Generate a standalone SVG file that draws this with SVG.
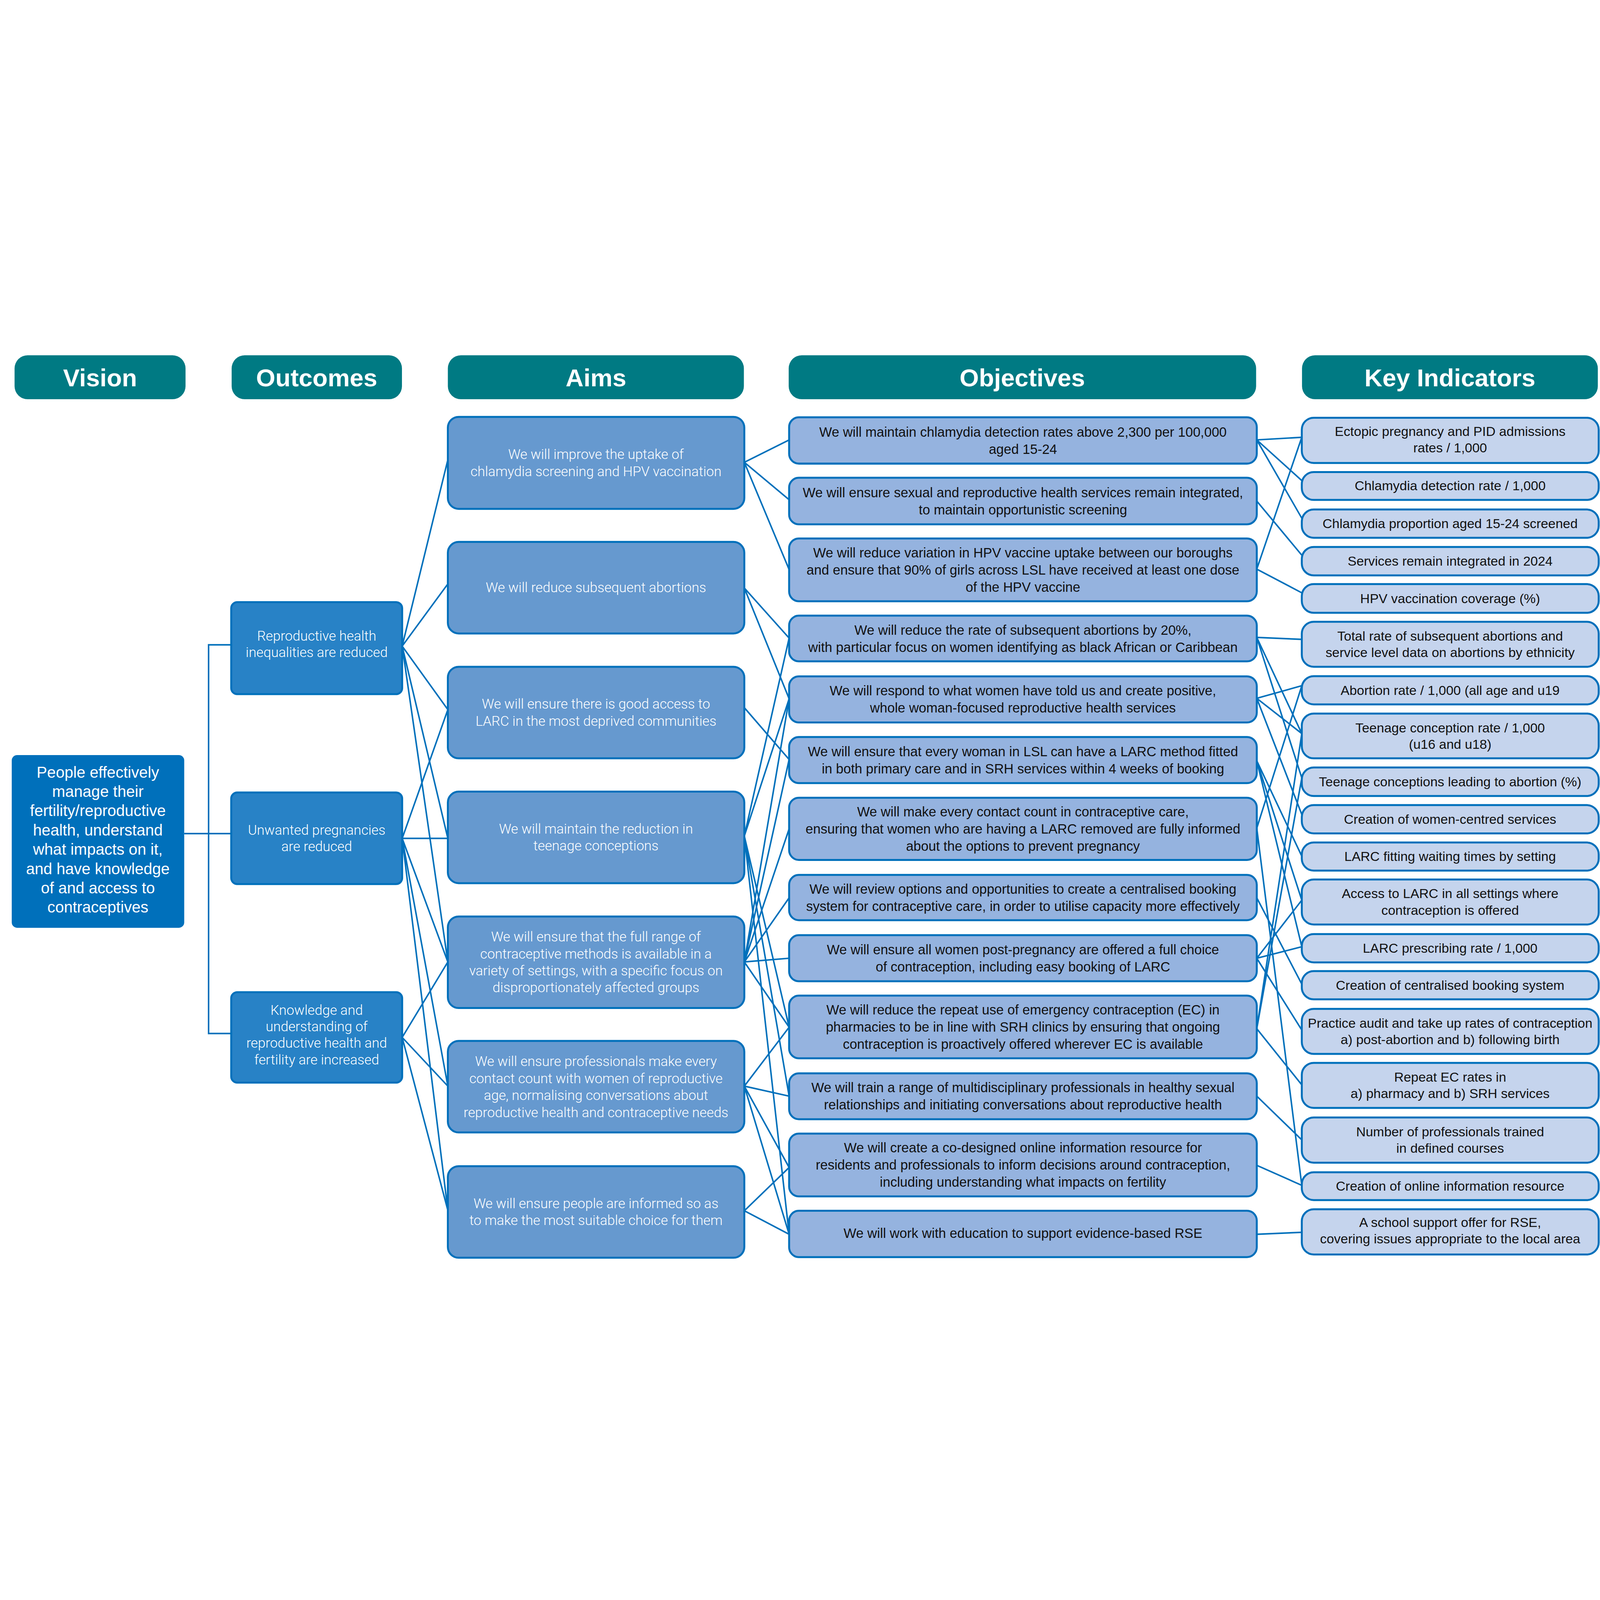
<svg xmlns="http://www.w3.org/2000/svg" width="7356" height="4173" viewBox="0 0 7356 4173" style="width:100vw;height:100vh;display:block;overflow:hidden">
<style>
.hdr{fill:#007a83}
.hdrt{font-family:"Liberation Sans",Arial,sans-serif;font-weight:bold;font-size:114px;fill:#fff;text-anchor:middle}
.vis{fill:#0070bb}
.out{fill:#2882c6;stroke:#0070bb;stroke-width:9}
.aim{fill:#6699cf;stroke:#0070bb;stroke-width:9}
.obj{fill:#95b3df;stroke:#0070bb;stroke-width:9}
.ki{fill:#c5d4ed;stroke:#0070bb;stroke-width:9}
.wt{font-family:Roboto,"Liberation Sans",Arial,sans-serif;font-weight:300;font-size:63px;fill:#fff;text-anchor:middle}
.vt{font-family:"Liberation Sans",Arial,sans-serif;font-size:72px;fill:#fff;text-anchor:middle}
.dt{font-family:"Liberation Sans",Arial,sans-serif;font-size:62px;fill:#111;text-anchor:middle}
.kt{font-family:"Liberation Sans",Arial,sans-serif;font-size:61px;fill:#111;text-anchor:middle}
.con path{fill:none;stroke:#0070bb;stroke-width:7}
</style>
<rect width="7356" height="4173" fill="#fff"/>
<g id="connectors" class="con">
<path d="M847,2241 H1063 M1063,1373 H959 V3160 H1063"/>
<path d="M1849,1379 L2059,522 M1849,1379 L2059,1093 M1849,1379 L2059,1671 M1849,1379 L2059,2263 M1849,1379 L2059,2831"/>
<path d="M1849,2263 L2059,1671 M1849,2263 L2059,2263 M1849,2263 L2059,2831 M1849,2263 L2059,3402 M1849,2263 L2059,3973"/>
<path d="M1849,3178 L2059,2831 M1849,3178 L2059,3402 M1849,3178 L2059,3973"/>
<path d="M3422,534 L3628,431 M3422,534 L3628,706 M3422,534 L3628,1027"/>
<path d="M3422,1112 L3628,1342 M3422,1112 L3628,1621"/>
<path d="M3422,1662 L3628,1900"/>
<path d="M3422,2252 L3628,1342 M3422,2252 L3628,1621 M3422,2252 L3628,3131 M3422,2252 L3628,3448 M3422,2252 L3628,4083"/>
<path d="M3422,2831 L3628,1621 M3422,2831 L3628,1900 M3422,2831 L3628,2219 M3422,2831 L3628,2536 M3422,2831 L3628,2814 M3422,2831 L3628,3131"/>
<path d="M3422,3402 L3628,3131 M3422,3402 L3628,3448 M3422,3402 L3628,3776 M3422,3402 L3628,4083"/>
<path d="M3422,3975 L3628,3776 M3422,3975 L3628,4083"/>
<path d="M5778,431 L5985,419 M5778,431 L5985,618 M5778,431 L5985,791"/>
<path d="M5778,712 L5985,961"/>
<path d="M5778,1025 L5985,419 M5778,1025 L5985,1134"/>
<path d="M5778,1339 L5985,1348 M5778,1339 L5985,1781 M5778,1339 L5985,1985"/>
<path d="M5778,1619 L5985,1561 M5778,1619 L5985,1781 M5778,1619 L5985,2153"/>
<path d="M5778,1906 L5985,2345 M5778,1906 L5985,2547 M5778,1906 L5985,2761"/>
<path d="M5778,2216 L5985,1561 M5778,2216 L5985,3858"/>
<path d="M5778,2536 L5985,2933"/>
<path d="M5778,2814 L5985,2547 M5778,2814 L5985,2761 M5778,2814 L5985,3144"/>
<path d="M5778,3138 L5985,1781 M5778,3138 L5985,1985 M5778,3138 L5985,3396"/>
<path d="M5778,3448 L5985,3649"/>
<path d="M5778,3766 L5985,3858"/>
<path d="M5778,4083 L5985,4074"/>
</g>
<g id="hdr-vision"><rect class="hdr" x="67" y="42" width="786" height="202" rx="60"/><text class="hdrt" x="460" y="184">Vision</text></g>
<g id="hdr-outcomes"><rect class="hdr" x="1065" y="42" width="783" height="202" rx="60"/><text class="hdrt" x="1456" y="184">Outcomes</text></g>
<g id="hdr-aims"><rect class="hdr" x="2059" y="42" width="1361" height="202" rx="60"/><text class="hdrt" x="2740" y="184">Aims</text></g>
<g id="hdr-objectives"><rect class="hdr" x="3626" y="42" width="2149" height="202" rx="60"/><text class="hdrt" x="4700" y="184">Objectives</text></g>
<g id="hdr-indicators"><rect class="hdr" x="5986" y="42" width="1360" height="202" rx="60"/><text class="hdrt" x="6666" y="184">Key Indicators</text></g>

<g id="vision"><rect class="vis" x="54" y="1880" width="793" height="794" rx="25"/>
<text class="vt" x="450"><tspan x="450" y="1984">People effectively</tspan><tspan x="450" y="2073">manage their</tspan><tspan x="450" y="2161">fertility/reproductive</tspan><tspan x="450" y="2250">health, understand</tspan><tspan x="450" y="2338">what impacts on it,</tspan><tspan x="450" y="2427">and have knowledge</tspan><tspan x="450" y="2516">of and access to</tspan><tspan x="450" y="2604">contraceptives</tspan></text></g>

<g id="outcome1"><rect class="out" x="1063" y="1177" width="786" height="423" rx="28"/><text class="wt"><tspan x="1456" y="1354">Reproductive health</tspan><tspan x="1456" y="1430">inequalities are reduced</tspan></text></g>
<g id="outcome2"><rect class="out" x="1063" y="2052" width="786" height="421" rx="28"/><text class="wt"><tspan x="1456" y="2246">Unwanted pregnancies</tspan><tspan x="1456" y="2322">are reduced</tspan></text></g>
<g id="outcome3"><rect class="out" x="1063" y="2970" width="786" height="416" rx="28"/><text class="wt"><tspan x="1456" y="3074">Knowledge and</tspan><tspan x="1456" y="3150">understanding of</tspan><tspan x="1456" y="3226">reproductive health and</tspan><tspan x="1456" y="3302">fertility are increased</tspan></text></g>

<g id="aim1"><rect class="aim" x="2059" y="325" width="1363" height="423" rx="50"/><text class="wt"><tspan x="2740" y="519">We will improve the uptake of</tspan><tspan x="2740" y="597">chlamydia screening and HPV vaccination</tspan></text></g>
<g id="aim2"><rect class="aim" x="2059" y="900" width="1363" height="421" rx="50"/><text class="wt"><tspan x="2740" y="1132">We will reduce subsequent abortions</tspan></text></g>
<g id="aim3"><rect class="aim" x="2059" y="1474" width="1363" height="421" rx="50"/><text class="wt"><tspan x="2740" y="1667">We will ensure there is good access to</tspan><tspan x="2740" y="1745">LARC in the most deprived communities</tspan></text></g>
<g id="aim4"><rect class="aim" x="2059" y="2048" width="1363" height="421" rx="50"/><text class="wt"><tspan x="2740" y="2241">We will maintain the reduction in</tspan><tspan x="2740" y="2319">teenage conceptions</tspan></text></g>
<g id="aim5"><rect class="aim" x="2059" y="2622" width="1363" height="421" rx="50"/><text class="wt"><tspan x="2740" y="2737">We will ensure that the full range of</tspan><tspan x="2740" y="2815">contraceptive methods is available in a</tspan><tspan x="2740" y="2893">variety of settings, with a specific focus on</tspan><tspan x="2740" y="2971">disproportionately affected groups</tspan></text></g>
<g id="aim6"><rect class="aim" x="2059" y="3194" width="1363" height="421" rx="50"/><text class="wt"><tspan x="2740" y="3310">We will ensure professionals make every</tspan><tspan x="2740" y="3388">contact count with women of reproductive</tspan><tspan x="2740" y="3466">age, normalising conversations about</tspan><tspan x="2740" y="3544">reproductive health and contraceptive needs</tspan></text></g>
<g id="aim7"><rect class="aim" x="2059" y="3770" width="1363" height="421" rx="50"/><text class="wt"><tspan x="2740" y="3963">We will ensure people are informed so as</tspan><tspan x="2740" y="4041">to make the most suitable choice for them</tspan></text></g>

<g id="obj1"><rect class="obj" x="3628" y="327" width="2150" height="213" rx="45"/><text class="dt"><tspan x="4703" y="416">We will maintain chlamydia detection rates above 2,300 per 100,000</tspan><tspan x="4703" y="495">aged 15-24</tspan></text></g>
<g id="obj2"><rect class="obj" x="3628" y="605" width="2150" height="214" rx="45"/><text class="dt"><tspan x="4703" y="694">We will ensure sexual and reproductive health services remain integrated,</tspan><tspan x="4703" y="773">to maintain opportunistic screening</tspan></text></g>
<g id="obj3"><rect class="obj" x="3628" y="884" width="2150" height="289" rx="45"/><text class="dt"><tspan x="4703" y="971">We will reduce variation in HPV vaccine uptake between our boroughs</tspan><tspan x="4703" y="1050">and ensure that 90% of girls across LSL have received at least one dose</tspan><tspan x="4703" y="1129">of the HPV vaccine</tspan></text></g>
<g id="obj4"><rect class="obj" x="3628" y="1239" width="2150" height="210" rx="45"/><text class="dt"><tspan x="4703" y="1326">We will reduce the rate of subsequent abortions by 20%,</tspan><tspan x="4703" y="1405">with particular focus on women identifying as black African or Caribbean</tspan></text></g>
<g id="obj5"><rect class="obj" x="3628" y="1518" width="2150" height="212" rx="45"/><text class="dt"><tspan x="4703" y="1606">We will respond to what women have told us and create positive,</tspan><tspan x="4703" y="1685">whole woman-focused reproductive health services</tspan></text></g>
<g id="obj6"><rect class="obj" x="3628" y="1797" width="2150" height="212" rx="45"/><text class="dt"><tspan x="4703" y="1885">We will ensure that every woman in LSL can have a LARC method fitted</tspan><tspan x="4703" y="1964">in both primary care and in SRH services within 4 weeks of booking</tspan></text></g>
<g id="obj7"><rect class="obj" x="3628" y="2076" width="2150" height="286" rx="45"/><text class="dt"><tspan x="4703" y="2162">We will make every contact count in contraceptive care,</tspan><tspan x="4703" y="2241">ensuring that women who are having a LARC removed are fully informed</tspan><tspan x="4703" y="2320">about the options to prevent pregnancy</tspan></text></g>
<g id="obj8"><rect class="obj" x="3628" y="2431" width="2150" height="208" rx="45"/><text class="dt"><tspan x="4703" y="2517">We will review options and opportunities to create a centralised booking</tspan><tspan x="4703" y="2596">system for contraceptive care, in order to utilise capacity more effectively</tspan></text></g>
<g id="obj9"><rect class="obj" x="3628" y="2708" width="2150" height="212" rx="45"/><text class="dt"><tspan x="4703" y="2796">We will ensure all women post-pregnancy are offered a full choice</tspan><tspan x="4703" y="2875">of contraception, including easy booking of LARC</tspan></text></g>
<g id="obj10"><rect class="obj" x="3628" y="2986" width="2150" height="288" rx="45"/><text class="dt"><tspan x="4703" y="3073">We will reduce the repeat use of emergency contraception (EC) in</tspan><tspan x="4703" y="3152">pharmacies to be in line with SRH clinics by ensuring that ongoing</tspan><tspan x="4703" y="3231">contraception is proactively offered wherever EC is available</tspan></text></g>
<g id="obj11"><rect class="obj" x="3628" y="3343" width="2150" height="211" rx="45"/><text class="dt"><tspan x="4703" y="3430">We will train a range of multidisciplinary professionals in healthy sexual</tspan><tspan x="4703" y="3509">relationships and initiating conversations about reproductive health</tspan></text></g>
<g id="obj12"><rect class="obj" x="3628" y="3620" width="2150" height="289" rx="45"/><text class="dt"><tspan x="4703" y="3707">We will create a co-designed online information resource for</tspan><tspan x="4703" y="3786">residents and professionals to inform decisions around contraception,</tspan><tspan x="4703" y="3865">including understanding what impacts on fertility</tspan></text></g>
<g id="obj13"><rect class="obj" x="3628" y="3975" width="2150" height="213" rx="45"/><text class="dt"><tspan x="4703" y="4100">We will work with education to support evidence-based RSE</tspan></text></g>

<g id="ki1"><rect class="ki" x="5985" y="329" width="1365" height="208" rx="55"/><text class="kt"><tspan x="6667" y="413">Ectopic pregnancy and PID admissions</tspan><tspan x="6667" y="489">rates / 1,000</tspan></text></g>
<g id="ki2"><rect class="ki" x="5985" y="579" width="1365" height="128" rx="55"/><text class="kt" x="6667" y="662">Chlamydia detection rate / 1,000</text></g>
<g id="ki3"><rect class="ki" x="5985" y="751" width="1365" height="130" rx="55"/><text class="kt" x="6667" y="837">Chlamydia proportion aged 15-24 screened</text></g>
<g id="ki4"><rect class="ki" x="5985" y="923" width="1365" height="131" rx="55"/><text class="kt" x="6667" y="1009">Services remain integrated in 2024</text></g>
<g id="ki5"><rect class="ki" x="5985" y="1094" width="1365" height="132" rx="55"/><text class="kt" x="6667" y="1181">HPV vaccination coverage (%)</text></g>
<g id="ki6"><rect class="ki" x="5985" y="1267" width="1365" height="207" rx="55"/><text class="kt"><tspan x="6667" y="1353">Total rate of subsequent abortions and</tspan><tspan x="6667" y="1429">service level data on abortions by ethnicity</tspan></text></g>
<g id="ki7"><rect class="ki" x="5985" y="1517" width="1365" height="130" rx="55"/><text class="kt" x="6667" y="1603">Abortion rate / 1,000 (all age and u19</text></g>
<g id="ki8"><rect class="ki" x="5985" y="1689" width="1365" height="206" rx="55"/><text class="kt"><tspan x="6667" y="1775">Teenage conception rate / 1,000</tspan><tspan x="6667" y="1851">(u16 and u18)</tspan></text></g>
<g id="ki9"><rect class="ki" x="5985" y="1937" width="1365" height="131" rx="55"/><text class="kt" x="6667" y="2023">Teenage conceptions leading to abortion (%)</text></g>
<g id="ki10"><rect class="ki" x="5985" y="2110" width="1365" height="130" rx="55"/><text class="kt" x="6667" y="2196">Creation of women-centred services</text></g>
<g id="ki11"><rect class="ki" x="5985" y="2282" width="1365" height="129" rx="55"/><text class="kt" x="6667" y="2367">LARC fitting waiting times by setting</text></g>
<g id="ki12"><rect class="ki" x="5985" y="2452" width="1365" height="207" rx="55"/><text class="kt"><tspan x="6667" y="2538">Access to LARC in all settings where</tspan><tspan x="6667" y="2614">contraception is offered</tspan></text></g>
<g id="ki13"><rect class="ki" x="5985" y="2703" width="1365" height="130" rx="55"/><text class="kt" x="6667" y="2789">LARC prescribing rate / 1,000</text></g>
<g id="ki14"><rect class="ki" x="5985" y="2873" width="1365" height="130" rx="55"/><text class="kt" x="6667" y="2959">Creation of centralised booking system</text></g>
<g id="ki15"><rect class="ki" x="5985" y="3047" width="1365" height="207" rx="55"/><text class="kt"><tspan x="6667" y="3133">Practice audit and take up rates of contraception</tspan><tspan x="6667" y="3209">a) post-abortion and b) following birth</tspan></text></g>
<g id="ki16"><rect class="ki" x="5985" y="3295" width="1365" height="207" rx="55"/><text class="kt"><tspan x="6667" y="3381">Repeat EC rates in</tspan><tspan x="6667" y="3457">a) pharmacy and b) SRH services</tspan></text></g>
<g id="ki17"><rect class="ki" x="5985" y="3546" width="1365" height="208" rx="55"/><text class="kt"><tspan x="6667" y="3633">Number of professionals trained</tspan><tspan x="6667" y="3709">in defined courses</tspan></text></g>
<g id="ki18"><rect class="ki" x="5985" y="3798" width="1365" height="128" rx="55"/><text class="kt" x="6667" y="3883">Creation of online information resource</text></g>
<g id="ki19"><rect class="ki" x="5985" y="3968" width="1365" height="208" rx="55"/><text class="kt"><tspan x="6667" y="4049">A school support offer for RSE,</tspan><tspan x="6667" y="4125">covering issues appropriate to the local area</tspan></text></g>
</svg>
